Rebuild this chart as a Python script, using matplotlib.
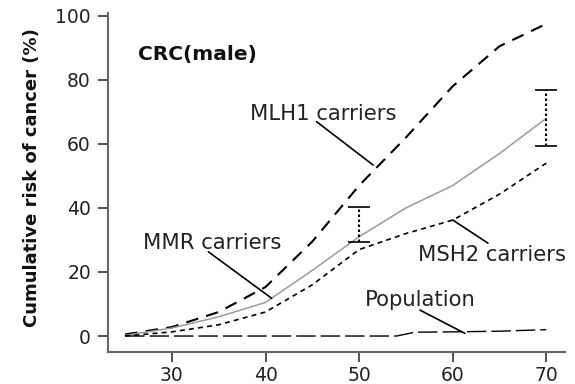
import matplotlib
matplotlib.use("Agg")
import matplotlib.pyplot as plt
from matplotlib import font_manager

# ---- data ----
ages = [25, 30, 35, 40, 45, 50, 55, 60, 65, 70]
mlh1 = [0.5, 2.8, 7.5, 15.3, 29.5, 47, 62, 78, 90.5, 97.5]
mmr = [0.2, 2.5, 6, 10.5, 20.5, 31, 40, 47, 57, 68]
msh2 = [0, 1.3, 3.5, 7.5, 16, 27, 32, 36.2, 44.3, 54]
pop_ages = [25, 30, 35, 40, 45, 50, 54, 56, 60, 65, 70]
population = [0, 0, 0, 0, 0, 0, 0, 1.2, 1.3, 1.5, 2.0]
ci_ages = [50, 70]
ci_mid = [31, 68]
ci_low = [29.5, 59.4]
ci_high = [40.4, 76.7]
xticks = [30, 40, 50, 60, 70]
yticks = [0, 20, 40, 60, 80, 100]

names = {f.name for f in font_manager.fontManager.ttflist}
if "Liberation Sans Narrow" in names:
    ylab_font = dict(family="Liberation Sans Narrow", fontsize=19, fontweight="bold")
elif "DejaVu Sans Condensed" in names:
    ylab_font = dict(family="DejaVu Sans Condensed", fontsize=15, fontweight="bold")
else:
    ylab_font = dict(family="DejaVu Sans", fontsize=13, fontweight="bold")

plt.rcParams["font.family"] = ["DejaVu Sans"]

fig = plt.figure(figsize=(5.75, 3.84), dpi=100)
ax = fig.add_axes([0.1883, 0.0841, 0.7943, 0.8813])

ax.plot(ages, mlh1, color="black", lw=1.5, linestyle=(0, (6, 4)), dash_capstyle="butt")
ax.plot(ages, mmr, color="#9a9a9a", lw=1.1)
ax.plot(ages, msh2, color="black", lw=1.2, linestyle=(0, (3, 2.5)))
ax.plot(pop_ages, population, color="black", lw=1.0, linestyle=(0, (14, 3.6)))

yerr = [[m - l for m, l in zip(ci_mid, ci_low)], [h - m for h, m in zip(ci_high, ci_mid)]]
eb = ax.errorbar(ci_ages, ci_mid, yerr=yerr, fmt="none", ecolor="black",
                 elinewidth=1.5, capsize=8, capthick=1.2)
for c in eb[2]:
    c.set_linestyle((0, (1.2, 1.2)))

ax.set_xlim(23.2, 72)
ax.set_ylim(-4.9, 100.8)
ax.set_xticks(xticks)
ax.set_yticks(yticks)
ax.spines["top"].set_visible(False)
ax.spines["right"].set_visible(False)
for s in ("left", "bottom"):
    ax.spines[s].set_color("#666666")
    ax.spines[s].set_linewidth(1.5)
ax.tick_params(direction="out", length=7.5, width=1.2, color="#333333",
               labelsize=13.5, labelcolor="#222222")
ax.tick_params(axis="y", pad=5)
ax.tick_params(axis="x", pad=3)

fig.text(32 / 575, 1 - 178 / 384, "Cumulative risk of cancer (%)", rotation=90,
         ha="center", va="center", color="#111111", **ylab_font)

tfs = 15.2
ax.text(26.4, 87.8, "CRC(male)", fontsize=14.5, fontweight="bold", va="center", ha="left", color="#111111")
ax.text(38.3, 69.4, "MLH1 carriers", fontsize=tfs, va="center", ha="left", color="#222222")
ax.text(26.9, 29.1, "MMR carriers", fontsize=tfs, va="center", ha="left", color="#222222")
ax.text(56.3, 25.3, "MSH2 carriers", fontsize=tfs, va="center", ha="left", color="#222222")
ax.text(50.6, 11.25, "Population", fontsize=tfs, va="center", ha="left", color="#222222")

lp = dict(arrowstyle="-", color="black", lw=1.2, shrinkA=0, shrinkB=0)
ax.annotate("", xy=(51.5, 53.4), xytext=(45.45, 66.97), arrowprops=lp)
ax.annotate("", xy=(40.65, 11.8), xytext=(33.9, 26.3), arrowprops=lp)
ax.annotate("", xy=(63.77, 29.0), xytext=(60.0, 36.25), arrowprops=lp)
ax.annotate("", xy=(61.3, 0.84), xytext=(56.5, 8.1), arrowprops=lp)

fig.savefig("out.png", dpi=100)
